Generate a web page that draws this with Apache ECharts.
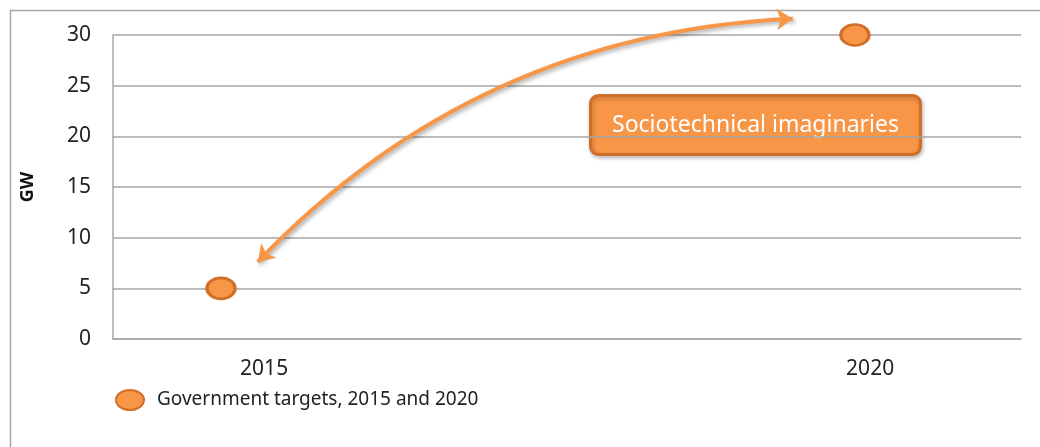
<!DOCTYPE html>
<html>
<head>
<meta charset="utf-8">
<script src="https://cdn.jsdelivr.net/npm/echarts@6/dist/echarts.min.js"></script>
<style>
  html, body { margin: 0; padding: 0; background: #fff; }
  #chart { width: 1040px; height: 447px; }
</style>
</head>
<body>
<div id="chart"></div>
<script>
// data
const years = [2015, 2020]
const targets = [5, 30]
const yTicks = [0, 5, 10, 15, 20, 25, 30]
// the year labels sit a little right of their points in the original
const xLabelAt = [2015.34, 2020.12]
const seriesName = 'Government targets, 2015 and 2020'
// arrow between the two targets (annotation), in data units
const arrowFrom = [2015.29, 7.6]
const arrowTo = [2019.51, 31.6]

const font = 'Noto Sans'
const orange = '#F79646'
const orangeDark = '#D06F29'

const chart = echarts.init(document.getElementById('chart'))
chart.setOption({
  animation: false,
  textStyle: { fontFamily: font },
  grid: { left: 113, right: 19, top: 35, bottom: 108 },
  legend: {
    left: 110,
    top: 384,
    itemWidth: 28,
    itemHeight: 20,
    textStyle: { fontSize: 19, color: '#222', fontFamily: font, padding: [0, 0, 0, 8] },
    data: [{ name: seriesName, icon: 'path://M0,10 A14,10 0 1 1 28,10 A14,10 0 1 1 0,10 Z' }]
  },
  xAxis: {
    type: 'value',
    min: 2014.148,
    max: 2021.31,
    axisLine: { show: true, lineStyle: { color: '#a6a6a6', width: 1.5 } },
    axisTick: { show: false },
    splitLine: { show: false },
    axisLabel: {
      customValues: xLabelAt,
      margin: 20,
      fontSize: 21,
      color: '#222',
      formatter: v => String(Math.floor(v))
    }
  },
  yAxis: {
    type: 'value',
    min: 0,
    max: 30,
    interval: 5,
    name: 'GW',
    nameLocation: 'middle',
    nameGap: 76,
    nameTextStyle: { fontSize: 18, fontWeight: 'bold', color: '#111' },
    axisLine: { show: true, lineStyle: { color: '#a6a6a6', width: 1.5 } },
    axisTick: { show: false },
    axisLabel: {
      margin: 22,
      fontSize: 21,
      color: '#222',
      formatter: v => (yTicks.includes(v) ? String(v) : '')
    },
    splitLine: { show: true, lineStyle: { color: '#a6a6a6', width: 1.5 } }
  },
  series: [
    {
      name: seriesName,
      type: 'scatter',
      symbol: 'circle',
      symbolSize: [28, 21],
      itemStyle: { color: orange, borderColor: orangeDark, borderWidth: 3, opacity: 1 },
      data: years.map((y, i) => [y, targets[i]]),
      z: 5
    },
    {
      type: 'lines',
      coordinateSystem: 'cartesian2d',
      clip: false,
      symbol: ['arrow', 'arrow'],
      symbolSize: 16,
      lineStyle: {
        color: orange,
        width: 4,
        opacity: 1,
        curveness: 0.2,
        shadowBlur: 4,
        shadowColor: 'rgba(0,0,0,0.35)',
        shadowOffsetX: 2,
        shadowOffsetY: 2
      },
      data: [{ coords: [arrowFrom, arrowTo] }],
      z: 4
    }
  ],
  graphic: [
    {
      type: 'rect',
      left: 8,
      top: 8,
      shape: { width: 1100, height: 500 },
      style: { fill: 'none', stroke: '#a6a6a6', lineWidth: 1.5 },
      silent: true
    },
    {
      type: 'group',
      left: 589,
      top: 94,
      children: [
        {
          type: 'rect',
          shape: { width: 330, height: 59, r: 8 },
          style: {
            fill: orange,
            stroke: orangeDark,
            lineWidth: 3,
            shadowBlur: 4,
            shadowColor: 'rgba(0,0,0,0.25)',
            shadowOffsetX: 1,
            shadowOffsetY: 2
          }
        },
        {
          type: 'text',
          x: 165,
          y: 30,
          style: {
            text: 'Sociotechnical imaginaries',
            fill: '#fff',
            font: '23px "Noto Sans"',
            align: 'center',
            verticalAlign: 'middle'
          }
        }
      ]
    }
  ]
})
</script>
</body>
</html>
